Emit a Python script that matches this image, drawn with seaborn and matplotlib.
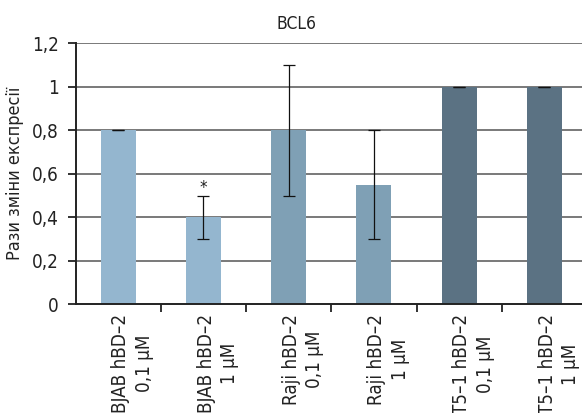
import matplotlib
matplotlib.use("Agg")
import matplotlib.pyplot as plt
from matplotlib import font_manager
import seaborn as sns
import pandas as pd

# Data
categories = ["BJAB hBD–2\n0,1 µM", "BJAB hBD–2\n1 µM",
              "Raji hBD–2\n0,1 µM", "Raji hBD–2\n1 µM",
              "T5–1 hBD–2\n0,1 µM", "T5–1 hBD–2\n1 µM"]
fold_change = [0.80, 0.40, 0.80, 0.55, 1.00, 1.00]
error = [0.0, 0.10, 0.30, 0.25, 0.0, 0.0]
bar_colors = ["#94b6cf", "#94b6cf", "#7fa0b5", "#7fa0b5", "#5b7283", "#5b7283"]
y_ticks = [0, 0.2, 0.4, 0.6, 0.8, 1.0, 1.2]
y_tick_labels = ["0", "0,2", "0,4", "0,6", "0,8", "1", "1,2"]
significant = [False, True, False, False, False, False]

sns.set_theme(style="white")


def pick_narrow_font():
    """Prefer a condensed sans face when one is installed."""
    for fam, stretch in [("Liberation Sans Narrow", "normal"),
                         ("DejaVu Sans", "condensed")]:
        try:
            path = font_manager.findfont(
                font_manager.FontProperties(family=fam, stretch=stretch),
                fallback_to_default=False)
        except Exception:
            continue
        if "Narrow" in path or "Condensed" in path:
            return fam, stretch
    return "Liberation Sans", "normal"


family, stretch = pick_narrow_font()
plt.rcParams["font.family"] = [family, "DejaVu Sans"]
plt.rcParams["font.stretch"] = stretch

df = pd.DataFrame({"group": categories, "value": fold_change})

fig = plt.figure(figsize=(5.82, 4.13), dpi=100)
ax = fig.add_axes([75.5 / 582, 1 - 304.3 / 413, (587 - 75.5) / 582, (304.3 - 43.3) / 413])

sns.barplot(data=df, x="group", y="value", hue="group", palette=bar_colors,
            legend=False, width=0.41, ax=ax, saturation=1, linewidth=0, zorder=3)

ax.errorbar(range(len(categories)), fold_change, yerr=error, fmt="none",
            ecolor="#111111", elinewidth=0.9, capsize=4.5, capthick=0.9, zorder=4)

for i, flag in enumerate(significant):
    if flag:
        ax.text(i, fold_change[i] + error[i] + 0.035, "*", ha="center", va="center",
                fontsize=12, color="#222222", zorder=5)

ax.set_ylim(0, 1.2)
ax.set_xlim(-0.5, len(categories) - 0.5)
ax.set_yticks(y_ticks)
ax.set_yticklabels(y_tick_labels, fontsize=13.5, color="#222222")
for y in y_ticks[1:]:
    ax.axhline(y, color="#555555", linewidth=1.1, zorder=1)

# tick marks between groups; group names hang under each bar
ax.set_xticks([i + 0.5 for i in range(len(categories) - 1)], minor=False)
ax.set_xticklabels([])
ax.set_xticks([i + 0.17 for i in range(len(categories))], minor=True)
ax.set_xticklabels(categories, minor=True, rotation=90, ha="center", va="top",
                   multialignment="center", fontsize=13.5, color="#222222",
                   linespacing=1.3)

ax.tick_params(axis="x", which="major", direction="out", length=6, width=1.3,
               bottom=True, color="#222222")
ax.tick_params(axis="x", which="minor", length=0, pad=7)
ax.tick_params(axis="y", direction="out", length=6, width=1.3, left=True,
               color="#222222", pad=6)

for side in ["top", "right"]:
    ax.spines[side].set_visible(False)
for side in ["left", "bottom"]:
    ax.spines[side].set_color("#222222")
    ax.spines[side].set_linewidth(1.4)
    ax.spines[side].set_zorder(5)

ax.set_xlabel("")
ax.set_ylabel("Рази зміни експресії", fontsize=13, color="#222222")
ax.yaxis.set_label_coords(-0.101, 0.5)

fig.text(296 / 582, 1 - 24 / 413, "BCL6", ha="center", va="center",
         fontsize=12.5, color="#222222")

fig.savefig("out.png", dpi=100)
